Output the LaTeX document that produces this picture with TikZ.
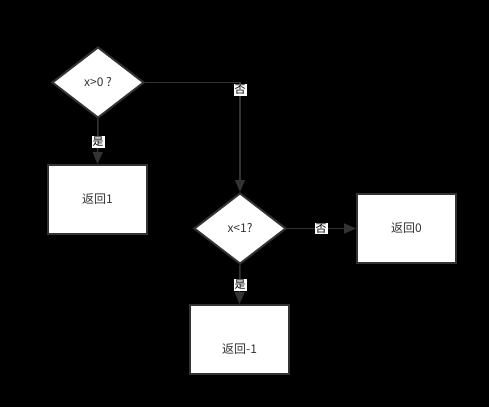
\documentclass[tikz,border=0pt]{standalone}
\usepackage{fontspec}
\setmainfont{Noto Sans CJK SC}
\usetikzlibrary{shapes.geometric,arrows.meta}
\definecolor{edge}{HTML}{333333}
\begin{document}
\begin{tikzpicture}[x=1pt,y=-1pt,
  box/.style={draw=edge,line width=2pt,fill=white,minimum width=99pt,minimum height=69pt,inner sep=0pt,font=\fontsize{12}{14}\selectfont,text=black!80},
  decision/.style={diamond,draw=edge,line width=2pt,fill=white,minimum width=92pt,minimum height=71pt,inner sep=0pt,aspect=1.3,font=\fontsize{12}{14}\selectfont,text=black!80},
  conn/.style={draw=edge,line width=1.5pt,-{Triangle[length=12pt,width=10pt]}},
  lbl/.style={fill=white,inner sep=1pt,font=\fontsize{11}{13}\selectfont,text=black}]
\fill[black] (0,0) rectangle (489,407);
\useasboundingbox (0,0) rectangle (489,407);
\node[decision] (d1) at (98,82.5) {x>0 ?};
\node[box] (b1) at (97.5,199.5) {返回1};
\node[decision] (d2) at (240,228.5) {x<1?};
\node[box] (b0) at (406.5,228.5) {返回0};
\node[box] (bm) at (239.5,339.5) {};
\node (tm) at (239.5,349) [font=\fontsize{12}{14}\selectfont,text=black!80] {返回-1};
\coordinate (c1) at (240,82.5);
\draw[conn] (d1.east) -- (c1) -- (d2.north);
\node[lbl] (l1) at (240,90) {否};
\draw[conn] (d1.south) -- (b1.north);
\node[lbl] (l2) at (98,142) {是};
\draw[conn] (d2.east) -- (b0.west);
\node[lbl] (l3) at (321,228.5) {否};
\draw[conn] (d2.south) -- (bm.north);
\node[lbl] (l4) at (240,285) {是};
\end{tikzpicture}
\end{document}
